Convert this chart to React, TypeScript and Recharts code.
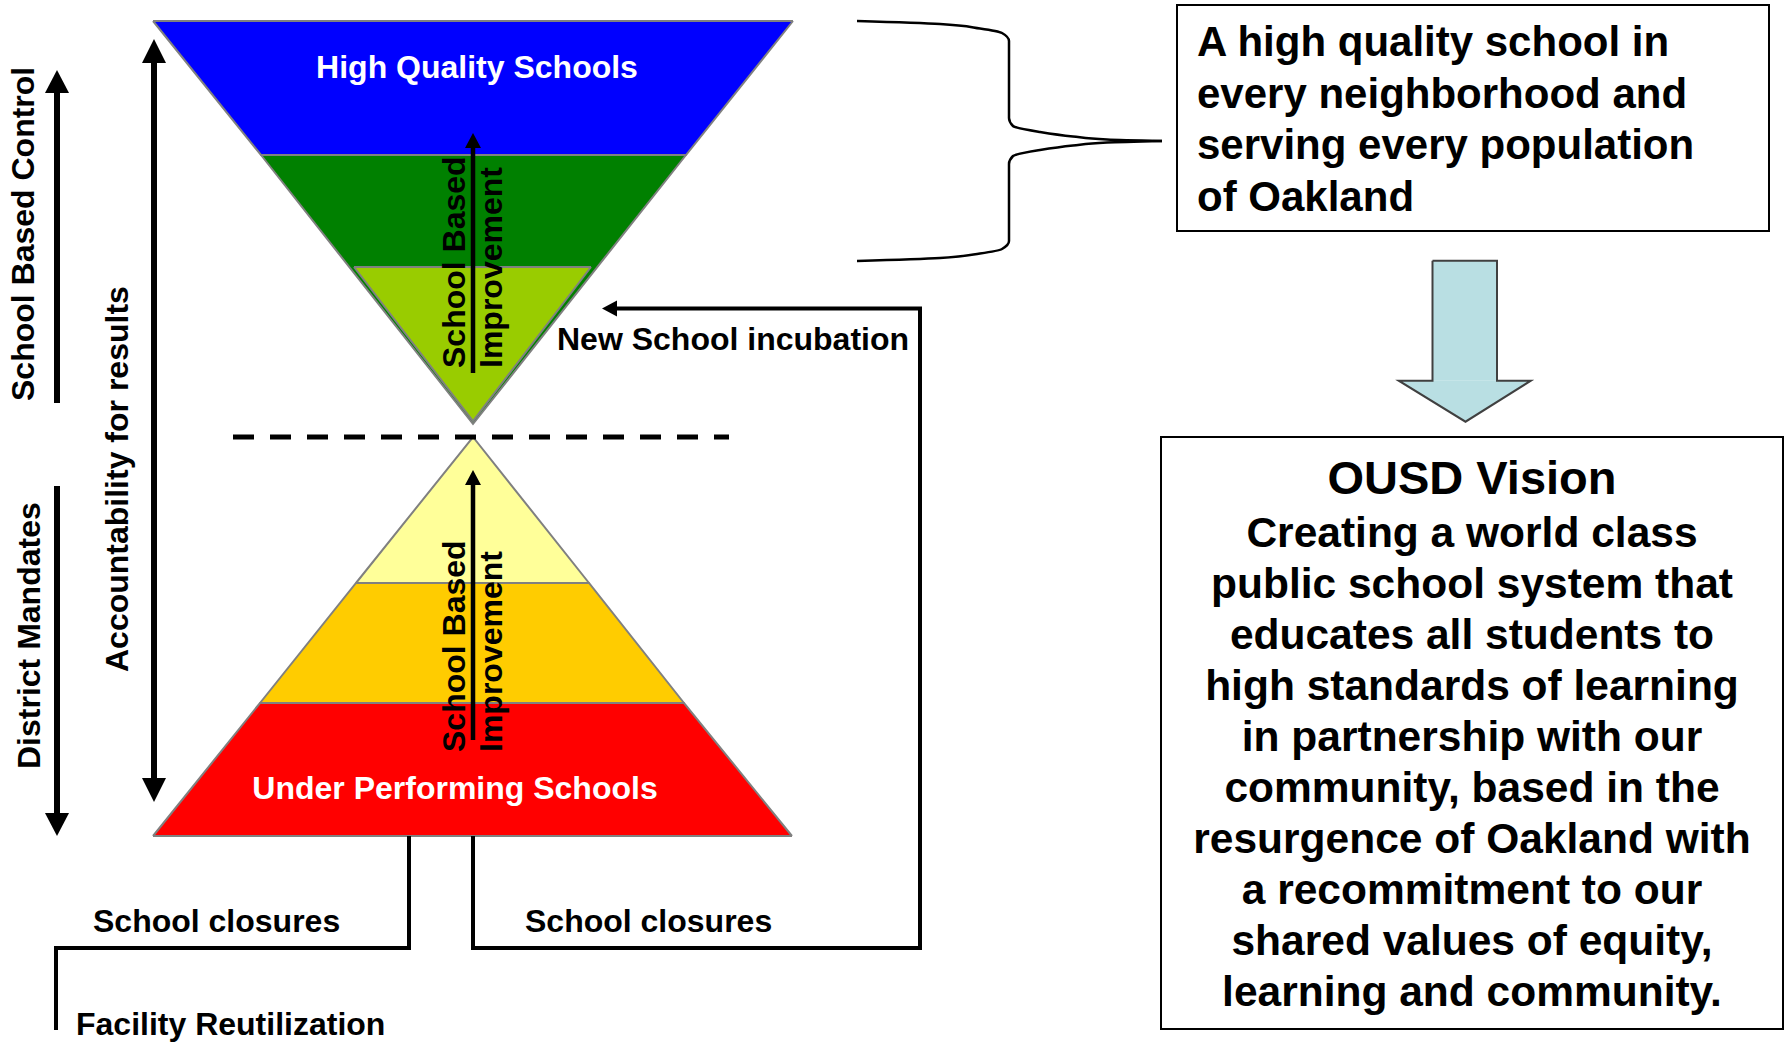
import React from "react";
import { ComposedChart, XAxis, YAxis, Area, Line, Scatter, ReferenceArea } from "recharts";

const W = 1786;
const H = 1044;
const FONT = '"Liberation Sans", Arial, Helvetica, sans-serif';

// funnel (top) and pyramid (bottom) layers, vertices
// y = [lower edge, upper edge] at each x (screen y grows downward)
const blueLayer = [
  { x: 153, y: [21, 21] },
  { x: 261, y: [155, 21] },
  { x: 686, y: [155, 21] },
  { x: 793, y: [21, 21] },
];
const greenLayer = [
  { x: 261, y: [155, 155] },
  { x: 473, y: [424, 155] },
  { x: 686, y: [155, 155] },
];
const limeLayer = [
  { x: 354, y: [267, 267] },
  { x: 473, y: [421, 267] },
  { x: 591, y: [267, 267] },
];
const yellowLayer = [
  { x: 356, y: [583, 583] },
  { x: 473, y: [583, 437] },
  { x: 589, y: [583, 583] },
];
const orangeLayer = [
  { x: 260, y: [703, 703] },
  { x: 356, y: [703, 583] },
  { x: 589, y: [703, 583] },
  { x: 684, y: [703, 703] },
];
const redLayer = [
  { x: 153, y: [836, 836] },
  { x: 260, y: [836, 703] },
  { x: 684, y: [836, 703] },
  { x: 792, y: [836, 836] },
];

const LAYERS = [
  { data: blueLayer, fill: "#0000ff" },
  { data: greenLayer, fill: "#008000" },
  { data: limeLayer, fill: "#99cc00" },
  { data: yellowLayer, fill: "#ffff99" },
  { data: orangeLayer, fill: "#ffcc00" },
  { data: redLayer, fill: "#ff0000" },
];

// arrow shafts and connector lines
const improveTop = [{ x: 473, y: 373 }, { x: 473, y: 146 }];
const improveBottom = [{ x: 473, y: 740 }, { x: 473, y: 483 }];
const controlArrow = [{ x: 57, y: 403 }, { x: 57, y: 90 }];
const mandateArrow = [{ x: 57, y: 486 }, { x: 57, y: 816 }];
const accountArrow = [{ x: 154, y: 60 }, { x: 154, y: 781 }];
const incubationLoop = [
  { x: 473, y: 836 },
  { x: 473, y: 948 },
  { x: 920, y: 948 },
  { x: 920, y: 308.5 },
  { x: 614, y: 308.5 },
];
const closureLoop = [
  { x: 409, y: 836 },
  { x: 409, y: 948 },
  { x: 56, y: 948 },
  { x: 56, y: 1030 },
];
const dashedDivider = [{ x: 233, y: 437 }, { x: 729, y: 437 }];

// curly brace, upper and lower halves
const braceUpper = [
  { x: 857, y: 21 },
  { x: 940, y: 24 },
  { x: 980, y: 28.5 },
  { x: 1002, y: 33 },
  { x: 1009, y: 41 },
  { x: 1009, y: 118 },
  { x: 1013, y: 126 },
  { x: 1040, y: 132 },
  { x: 1073, y: 136.5 },
  { x: 1107, y: 139.5 },
  { x: 1162, y: 141 },
];
const braceLower = [
  { x: 1162, y: 141 },
  { x: 1107, y: 142.5 },
  { x: 1073, y: 145.5 },
  { x: 1040, y: 150 },
  { x: 1013, y: 156 },
  { x: 1009, y: 164 },
  { x: 1009, y: 241 },
  { x: 1002, y: 249 },
  { x: 980, y: 253.5 },
  { x: 940, y: 258 },
  { x: 857, y: 261 },
];

// block arrow between the two boxes
const blockShaft = [
  { x: 1432.5, y: [380.7, 260.7] },
  { x: 1497, y: [380.7, 260.7] },
];
const blockHead = [
  { x: 1398.7, y: [380.7, 380.7] },
  { x: 1465.5, y: [421.7, 380.7] },
  { x: 1530.8, y: [380.7, 380.7] },
];
const blockOutline = [
  { x: 1432.5, y: 260.7 },
  { x: 1497, y: 260.7 },
  { x: 1497, y: 380.7 },
  { x: 1530.8, y: 380.7 },
  { x: 1465.5, y: 421.7 },
  { x: 1398.7, y: 380.7 },
  { x: 1432.5, y: 380.7 },
  { x: 1432.5, y: 260.7 },
];

const headUp = (x: number, tip: number, len: number, hw: number) => [
  { x: x - hw, y: [tip + len, tip + len] },
  { x, y: [tip + len, tip] },
  { x: x + hw, y: [tip + len, tip + len] },
];
const headDown = (x: number, tip: number, len: number, hw: number) => [
  { x: x - hw, y: [tip - len, tip - len] },
  { x, y: [tip, tip - len] },
  { x: x + hw, y: [tip - len, tip - len] },
];
const headLeft = (tip: number, y: number, len: number, hw: number) => [
  { x: tip, y: [y, y] },
  { x: tip + len, y: [y + hw, y - hw] },
];

const ARROW_HEADS = [
  headUp(473, 133, 15, 8),
  headUp(473, 470, 15, 8),
  headUp(57, 70, 23, 12),
  headDown(57, 836, 23, 12),
  headUp(154, 39, 24, 12),
  headDown(154, 802, 24, 12),
  headLeft(602, 308.5, 15, 8),
];

// texts
const whiteLabels = [
  { x: 477, y: 78, text: "High Quality Schools" },
  { x: 455, y: 799, text: "Under Performing Schools" },
];
const blackLabels = [
  { x: 557, y: 350, text: "New School incubation" },
  { x: 93, y: 932, text: "School closures" },
  { x: 525, y: 932, text: "School closures" },
  { x: 76, y: 1035, text: "Facility Reutilization" },
];
const sideLabels = [
  { x: 465, y: 368, text: "School Based" },
  { x: 502, y: 368, text: "Improvement" },
  { x: 465, y: 752, text: "School Based" },
  { x: 502, y: 752, text: "Improvement" },
  { x: 34, y: 401, text: "School Based Control" },
  { x: 40, y: 769, text: "District Mandates" },
  { x: 128, y: 672, text: "Accountability for results" },
];

const GOAL_LINES = [
  "A high quality school in",
  "every neighborhood and",
  "serving every population",
  "of Oakland",
];
const VISION_TITLE = "OUSD Vision";
const VISION_LINES = [
  "Creating a world class",
  "public school system that",
  "educates all students to",
  "high standards of learning",
  "in partnership with our",
  "community, based in the",
  "resurgence of Oakland with",
  "a recommitment to our",
  "shared values of equity,",
  "learning and community.",
];

const goalAnchor = [{ x: 1197, y: 56 }];
const titleAnchor = [{ x: 1472, y: 494 }];
const visionAnchor = [{ x: 1472, y: 547 }];

const whiteText = (p: any) => (
  <text x={p.cx} y={p.cy} textAnchor="middle" fill="#ffffff" fontSize={32} fontWeight="bold" fontFamily={FONT}>
    {p.payload.text}
  </text>
);
const blackText = (p: any) => (
  <text x={p.cx} y={p.cy} textAnchor="start" fill="#000000" fontSize={32} fontWeight="bold" fontFamily={FONT}>
    {p.payload.text}
  </text>
);
const sideText = (p: any) => (
  <text
    x={p.cx}
    y={p.cy}
    transform={`rotate(-90 ${p.cx} ${p.cy})`}
    textAnchor="start"
    fill="#000000"
    fontSize={32}
    fontWeight="bold"
    fontFamily={FONT}
  >
    {p.payload.text}
  </text>
);
const textBlock = (lines: string[], size: number, gap: number, anchor: string) => (p: any) => (
  <text x={p.cx} y={p.cy} textAnchor={anchor} fill="#000000" fontSize={size} fontWeight="bold" fontFamily={FONT}>
    {lines.map((l, i) => (
      <tspan key={i} x={p.cx} dy={i === 0 ? 0 : gap}>
        {l}
      </tspan>
    ))}
  </text>
);

const lineProps = {
  type: "linear" as const,
  dataKey: "y",
  stroke: "#000000",
  dot: false,
  activeDot: false,
  isAnimationActive: false,
};

export default function App() {
  return (
    <div style={{ position: "fixed", left: 0, top: 0, width: W, height: H, background: "#ffffff" }}>
      <ComposedChart width={W} height={H} margin={{ top: 0, right: 0, bottom: 0, left: 0 }}>
        <XAxis type="number" dataKey="x" domain={[0, W]} allowDataOverflow hide />
        <YAxis type="number" domain={[0, H]} reversed allowDataOverflow hide />

        <ReferenceArea x1={1177} x2={1769} y1={5} y2={231} fill="#ffffff" fillOpacity={1} stroke="#000000" strokeWidth={2} />
        <ReferenceArea x1={1161} x2={1783} y1={437} y2={1029} fill="#ffffff" fillOpacity={1} stroke="#000000" strokeWidth={2} />

        {LAYERS.map((l, i) => (
          <Area
            key={`layer-${i}`}
            data={l.data}
            dataKey="y"
            type="linear"
            fill={l.fill}
            fillOpacity={1}
            stroke="#808080"
            strokeWidth={2}
            dot={false}
            activeDot={false}
            isAnimationActive={false}
          />
        ))}

        <Area data={blockShaft} dataKey="y" type="linear" fill="#b9dfe3" fillOpacity={1} stroke="none" dot={false} activeDot={false} isAnimationActive={false} />
        <Area data={blockHead} dataKey="y" type="linear" fill="#b9dfe3" fillOpacity={1} stroke="none" dot={false} activeDot={false} isAnimationActive={false} />
        <Line {...lineProps} data={blockOutline} stroke="#404040" strokeWidth={2} />

        {ARROW_HEADS.map((h, i) => (
          <Area
            key={`head-${i}`}
            data={h}
            dataKey="y"
            type="linear"
            fill="#000000"
            fillOpacity={1}
            stroke="none"
            dot={false}
            activeDot={false}
            isAnimationActive={false}
          />
        ))}

        <Line {...lineProps} data={improveTop} strokeWidth={4.5} />
        <Line {...lineProps} data={improveBottom} strokeWidth={4.5} />
        <Line {...lineProps} data={controlArrow} strokeWidth={6} />
        <Line {...lineProps} data={mandateArrow} strokeWidth={6} />
        <Line {...lineProps} data={accountArrow} strokeWidth={6} />
        <Line {...lineProps} data={incubationLoop} strokeWidth={4} />
        <Line {...lineProps} data={closureLoop} strokeWidth={4} />
        <Line {...lineProps} data={dashedDivider} strokeWidth={5} strokeDasharray="21 16" />
        <Line {...lineProps} type="monotoneY" data={braceUpper} strokeWidth={2.5} />
        <Line {...lineProps} type="monotoneY" data={braceLower} strokeWidth={2.5} />

        <Scatter data={whiteLabels} dataKey="y" shape={whiteText} isAnimationActive={false} />
        <Scatter data={blackLabels} dataKey="y" shape={blackText} isAnimationActive={false} />
        <Scatter data={sideLabels} dataKey="y" shape={sideText} isAnimationActive={false} />
        <Scatter data={goalAnchor} dataKey="y" shape={textBlock(GOAL_LINES, 42, 51.5, "start")} isAnimationActive={false} />
        <Scatter data={titleAnchor} dataKey="y" shape={textBlock([VISION_TITLE], 47, 0, "middle")} isAnimationActive={false} />
        <Scatter data={visionAnchor} dataKey="y" shape={textBlock(VISION_LINES, 42.5, 51, "middle")} isAnimationActive={false} />
      </ComposedChart>
    </div>
  );
}
